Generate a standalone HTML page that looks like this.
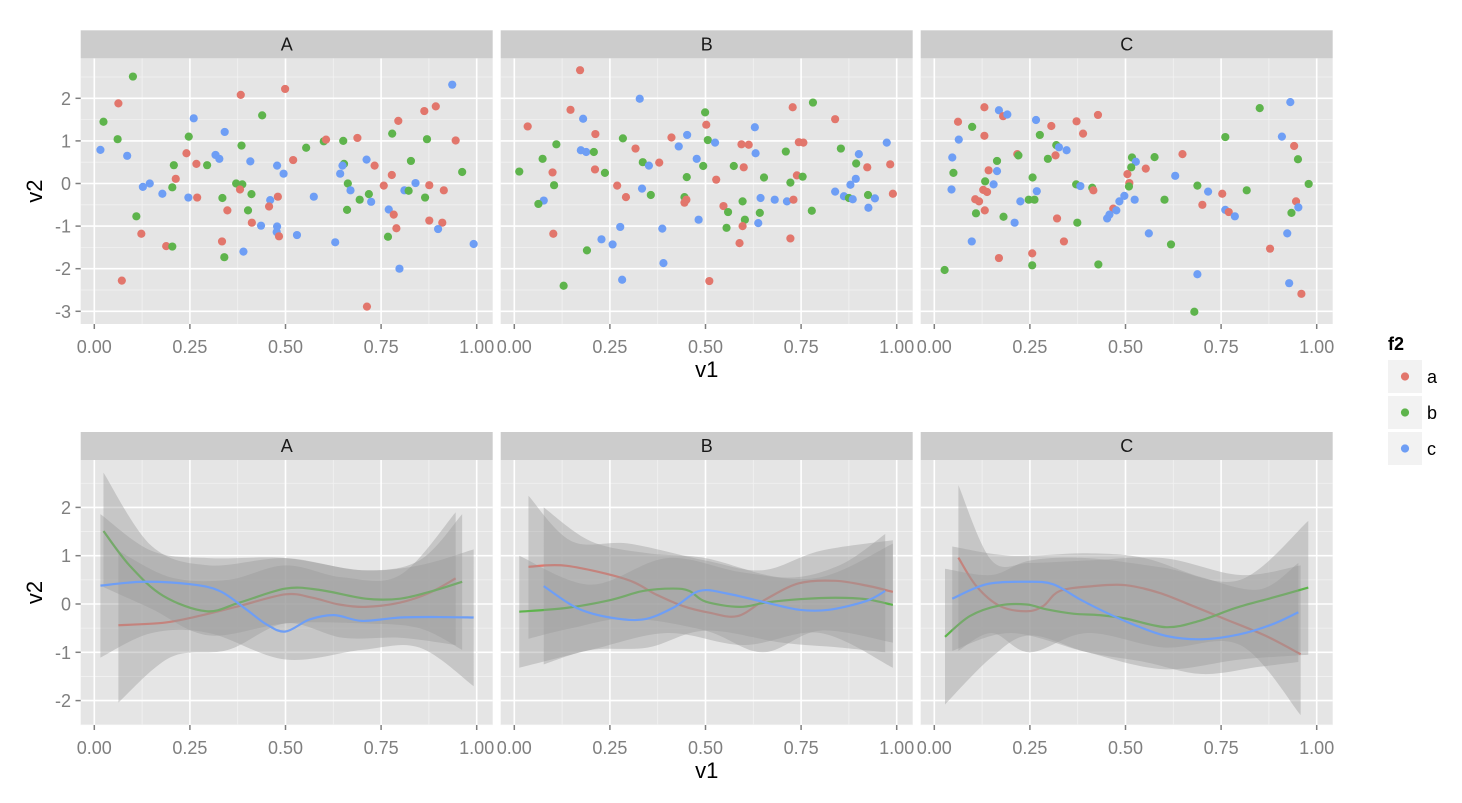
<!DOCTYPE html>
<html><head><meta charset="utf-8"><style>
html,body{margin:0;padding:0;background:#fff;}
svg{display:block;font-family:"Liberation Sans",Arial,sans-serif;}
</style></head><body>
<svg id="chart" width="1462" height="803" viewBox="0 0 1462 803" xmlns="http://www.w3.org/2000/svg"></svg>
<script>
// ---------- Top row: scatter points (x, y, group) ----------
const ptsAx=[.101,.063,.024,.061,.016,.086,.26,.247,.241,.267,.208,.295,.213,.204,.127,.145,.178,.246,.269,.110,.123,.188,.204,.072,.341,.317,.327,.385,.383,.439,.408,.371,.387,.381,.411,.335,.348,.402,.412,.436,.334,.340,.39,.499,.478,.495,.52,.48,.46,.457,.478,.477,.483,.53,.554,.60,.606,.574,.651,.688,.653,.649,.643,.663,.67,.694,.661,.63,.712,.733,.718,.724,.713,.795,.779,.778,.757,.77,.783,.79,.768,.798,.828,.811,.822,.84,.863,.893,.87,.876,.865,.876,.91,.914,.899,.945,.936,.962,.992];
const ptsAy=[2.51,1.88,1.45,1.04,.79,.65,1.53,1.10,.71,.46,.43,.43,.11,-.09,-.08,0,-.24,-.33,-.33,-.77,-1.18,-1.47,-1.48,-2.28,1.21,.67,.58,.89,2.08,1.60,.52,0,-.02,-.14,-.25,-.34,-.63,-.63,-.92,-.99,-1.36,-1.73,-1.60,2.22,.42,.23,.55,-.31,-.39,-.54,-1.01,-1.14,-1.24,-1.21,.84,.99,1.03,-.31,1.0,1.07,.46,.42,.23,0,-.16,-.38,-.62,-1.38,.56,.42,-.25,-.43,-2.89,1.47,1.17,.20,-.05,-.61,-.73,-1.05,-1.25,-2.0,.53,-.16,-.17,.01,1.70,1.81,1.04,-.04,-.33,-.87,-.92,-.16,-1.07,1.01,2.32,.27,-1.42];
const ptsAg=("babbcccbaa"+"bbabccccab"+"aabacccbab"+"cbbabbabac"+"abcaccaaca"+"ccacbbacba"+"bccbcbbcca"+"bcaabaacaa"+"bcbcbcaaba"+"baaacacbc").split("");
const ptsBx=[.172,.147,.18,.035,.212,.11,.174,.188,.208,.074,.10,.013,.104,.077,.063,.211,.237,.269,.292,.102,.277,.228,.257,.19,.129,.282,.328,.284,.317,.336,.352,.379,.334,.357,.387,.39,.411,.452,.43,.477,.494,.451,.445,.45,.445,.482,.499,.502,.506,.525,.528,.547,.559,.555,.51,.629,.594,.613,.631,.574,.6,.653,.597,.603,.597,.589,.644,.642,.638,.681,.713,.73,.722,.71,.728,.744,.756,.739,.754,.722,.778,.781,.839,.854,.901,.894,.923,.893,.879,.839,.862,.875,.885,.925,.943,.926,.974,.983,.99];
const ptsBy=[2.66,1.73,1.52,1.34,1.16,.92,.78,.74,.74,.58,.26,.28,-.04,-.40,-.48,.33,.25,-.05,-.32,-1.18,-1.02,-1.31,-1.43,-1.57,-2.40,-2.26,1.99,1.06,.82,.50,.42,.49,-.12,-.27,-1.06,-1.87,1.08,1.14,.87,.58,.41,.15,-.32,-.38,-.45,-.85,1.67,1.38,1.02,.96,.09,-.53,-.67,-1.04,-2.29,1.32,.92,.91,.71,.41,.38,.14,-.42,-.85,-1.0,-1.40,-.34,-.69,-.93,-.38,-.42,-.38,-1.29,.75,1.79,.97,.96,.19,.16,.02,-.64,1.90,1.51,.82,.69,.47,.38,.11,-.03,-.19,-.30,-.34,-.37,-.27,-.35,-.57,.96,.45,-.24];
const ptsBg=("aacaabccbb"+"abbcbabaaa"+"cccbbccbab"+"cacbccaccc"+"bbbaacbabc"+"aabbacaacb"+"abbbaacbcc"+"caabaaaabb"+"bbabcbaccc"+"cbcbcccaa").split("");
const ptsCx=[.131,.169,.18,.191,.062,.099,.131,.064,.047,.050,.045,.142,.164,.164,.133,.155,.128,.138,.107,.117,.132,.109,.181,.098,.169,.027,.217,.22,.266,.276,.306,.257,.268,.247,.262,.225,.21,.256,.256,.319,.326,.346,.317,.297,.372,.389,.428,.371,.382,.413,.416,.321,.374,.339,.429,.517,.527,.515,.505,.51,.509,.553,.576,.649,.63,.524,.497,.484,.468,.476,.458,.452,.561,.619,.602,.688,.701,.688,.68,.716,.753,.761,.77,.786,.761,.817,.851,.878,.909,.931,.941,.951,.979,.946,.952,.934,.923,.928,.96];
const ptsCy=[1.79,1.72,1.58,1.62,1.45,1.33,1.12,1.03,.61,.25,-.14,.31,.29,.53,.05,-.02,-.15,-.20,-.37,-.42,-.63,-.70,-.78,-1.36,-1.75,-2.03,.69,.66,1.49,1.14,1.35,.14,-.18,-.38,-.38,-.42,-.92,-1.64,-1.92,.90,.85,.78,.66,.58,1.46,1.17,1.61,-.02,-.06,-.10,-.16,-.82,-.92,-1.36,-1.90,.61,.51,.38,.22,.01,-.07,.35,.62,.69,.18,-.38,-.29,-.42,-.59,-.63,-.73,-.82,-1.17,-1.43,-.38,-.05,-.50,-2.13,-3.01,-.19,-.24,-.62,-.67,-.77,1.09,-.16,1.77,-1.53,1.10,1.91,.88,.57,-.01,-.42,-.56,-.69,-1.17,-2.34,-2.59];
const ptsCg=("acacabaccb"+"cacbbcaaaa"+"abbcababcb"+"abcbbccabb"+"ccabaaabcb"+"aababbcbaa"+"babaccccac"+"cccbbbacbc"+"acacbbbacc"+"abbacbcca").split("");

// ---------- Bottom row: smooth fits (fit x/y, ribbon x/upper/lower) ----------
const A_a_fx=[.063,.18,.267,.38,.50,.57,.64,.71,.80,.876,.945], A_a_fy=[-.44,-.39,-.26,-.04,.20,.13,-.01,-.06,.03,.23,.53];
const A_a_rx=[.063,.2,.35,.5,.65,.8,.945], A_a_up=[1.1,.55,.5,.8,.55,.6,1.9], A_a_lo=[-2.04,-1.1,-.95,-.4,-.7,-.7,-.85];
const A_b_fx=[.024,.093,.18,.293,.38,.50,.59,.71,.80,.885,.962], A_b_fy=[1.51,.79,.17,-.15,.03,.32,.29,.11,.11,.27,.46];
const A_b_rx=[.024,.15,.3,.5,.7,.85,.962], A_b_up=[2.72,1.2,.8,.95,.7,.9,1.86], A_b_lo=[.35,-.1,-.65,-.4,-.4,-.5,-.95];
const A_c_fx=[.016,.128,.25,.328,.397,.45,.50,.563,.628,.70,.80,.90,.992], A_c_fy=[.38,.46,.41,.27,-.11,-.42,-.57,-.32,-.23,-.35,-.28,-.27,-.28];
const A_c_rx=[.016,.15,.3,.5,.7,.85,.992], A_c_up=[1.86,1.1,.95,.95,.7,.8,1.13], A_c_lo=[-1.11,-.6,-.6,-1.15,-.95,-.9,-1.7];
const B_a_fx=[.037,.137,.293,.37,.44,.51,.584,.658,.745,.84,.928,.99], B_a_fy=[.77,.79,.51,.2,-.04,-.18,-.25,.1,.43,.48,.37,.25];
const B_a_rx=[.037,.15,.3,.5,.65,.8,.99], B_a_up=[2.24,1.3,1.25,.9,.7,1.1,1.32], B_a_lo=[-.72,-.5,-.3,-.55,-1.0,-.55,-.8];
const B_b_fx=[.013,.137,.25,.337,.415,.458,.50,.589,.658,.745,.84,.92,.99], B_b_fy=[-.16,-.08,.08,.27,.32,.27,.05,-.06,.03,.1,.13,.1,-.02];
const B_b_rx=[.013,.2,.4,.6,.8,.99], B_b_up=[1.0,.4,.95,.65,.55,1.25], B_b_lo=[-1.32,-.95,-.6,-.85,-.6,-1.32];
const B_c_fx=[.077,.163,.25,.337,.415,.484,.554,.658,.745,.823,.92,.97], B_c_fy=[.37,-.08,-.28,-.32,-.08,.27,.22,.03,-.12,-.12,.06,.27];
const B_c_rx=[.077,.2,.35,.5,.7,.85,.97], B_c_up=[2.0,1.3,1.05,.95,.55,.8,1.45], B_c_lo=[-1.25,-.95,-.9,-.55,-.8,-.9,-1.0];
const C_a_fx=[.063,.11,.171,.241,.285,.328,.415,.50,.589,.676,.763,.867,.958], C_a_fy=[.96,.37,-.04,-.15,-.04,.27,.37,.39,.23,-.04,-.32,-.66,-1.04];
const C_a_rx=[.063,.15,.25,.4,.6,.8,.958], C_a_up=[2.46,.9,.85,.9,.95,.6,.8], C_a_lo=[-.97,-.6,-1.0,-.6,-.9,-.85,-2.3];
const C_b_fx=[.028,.093,.171,.241,.293,.363,.432,.50,.606,.693,.789,.884,.978], C_b_fy=[-.68,-.25,-.03,-.01,-.11,-.2,-.23,-.3,-.48,-.35,-.08,.13,.34];
const C_b_rx=[.028,.15,.25,.4,.6,.8,.978], C_b_up=[.73,.6,.9,.95,.75,.5,1.72], C_b_lo=[-2.08,-1.1,-.65,-1.0,-1.35,-1.15,-1.05];
const C_c_fx=[.047,.137,.241,.31,.38,.45,.519,.606,.70,.797,.884,.952], C_c_fy=[.11,.41,.46,.41,.1,-.18,-.42,-.66,-.73,-.63,-.42,-.17];
const C_c_rx=[.047,.2,.4,.55,.7,.85,.952], C_c_up=[1.19,1.0,1.05,.95,.55,.3,.85], C_c_lo=[-.97,-.6,-1.0,-1.2,-1.45,-1.3,-1.2];

const panelNames=["A","B","C"];
const groupNames=["a","b","c"];
const xTicks=[0,0.25,0.5,0.75,1];
const xTickLabels=["0.00","0.25","0.50","0.75","1.00"];
const topYTicks=[-3,-2,-1,0,1,2];
const botYTicks=[-2,-1,0,1,2];

const COLORS={a:"#E2766C",b:"#5EB44C",c:"#6E9EF5"};
const NS="http://www.w3.org/2000/svg";
const svg=document.getElementById("chart");
const panelLeft=[80.7,500.7,920.7], panelW=412;
const TOP={y0:58.3,y1:324,zero:183.5,unit:42.6};
const BOT={y0:460,y1:725,zero:604,unit:48.3};
function sx(p,v){return panelLeft[p]+13.6+v*382.4;}
function sy(r,v){return r.zero-v*r.unit;}
function mk(tag,attrs,parent){const e=document.createElementNS(NS,tag);for(const k in attrs)e.setAttribute(k,attrs[k]);(parent||svg).appendChild(e);return e;}
function smooth(pts){
  let d="M"+pts[0][0].toFixed(2)+","+pts[0][1].toFixed(2);
  for(let i=0;i<pts.length-1;i++){
    const p0=pts[Math.max(0,i-1)],p1=pts[i],p2=pts[i+1],p3=pts[Math.min(pts.length-1,i+2)];
    const c1=[p1[0]+(p2[0]-p0[0])/6,p1[1]+(p2[1]-p0[1])/6];
    const c2=[p2[0]-(p3[0]-p1[0])/6,p2[1]-(p3[1]-p1[1])/6];
    d+="C"+c1[0].toFixed(2)+","+c1[1].toFixed(2)+" "+c2[0].toFixed(2)+","+c2[1].toFixed(2)+" "+p2[0].toFixed(2)+","+p2[1].toFixed(2);
  }
  return d;
}
function smoothCont(pts){return smooth(pts).replace(/^M[^C]*/,"");}

function drawPanel(p,r,yTicks,row){
  const g=mk("g",{});
  
  
  const bg=mk("rect",{x:panelLeft[p],y:r.y0,width:panelW,height:r.y1-r.y0,fill:"#e5e5e5"},g);
  
  
  for(const v of [0.125,0.375,0.625,0.875]){const x=sx(p,v);mk("line",{x1:x,x2:x,y1:r.y0,y2:r.y1,stroke:"#f2f2f2","stroke-width":0.8},g);}
  const minors=yTicks.map(v=>v+0.5).concat([yTicks[0]-0.5]);
  for(const v of minors){const y=sy(r,v);if(y>r.y0&&y<r.y1)mk("line",{x1:panelLeft[p],x2:panelLeft[p]+panelW,y1:y,y2:y,stroke:"#f2f2f2","stroke-width":0.8},g);}
  for(const v of xTicks){const x=sx(p,v);mk("line",{x1:x,x2:x,y1:r.y0,y2:r.y1,stroke:"#ffffff","stroke-width":1.6},g);}
  for(const v of yTicks){const y=sy(r,v);mk("line",{x1:panelLeft[p],x2:panelLeft[p]+panelW,y1:y,y2:y,stroke:"#ffffff","stroke-width":1.6},g);}
  const st=mk("rect",{x:panelLeft[p],y:r.y0-28,width:panelW,height:28,fill:"#cccccc"});
  
  
  const stt=mk("text",{x:panelLeft[p]+panelW/2,y:r.y0-8,"text-anchor":"middle","font-size":18,fill:"#1a1a1a"});
  stt.textContent=panelNames[p];
  
  
  for(let i=0;i<xTicks.length;i++){
    const x=sx(p,xTicks[i]);
    mk("line",{x1:x,x2:x,y1:r.y1,y2:r.y1+5,stroke:"#7f7f7f","stroke-width":1.5});
    const t=mk("text",{x:x,y:r.y1+29,"text-anchor":"middle","font-size":18,fill:"#7f7f7f"});
    t.textContent=xTickLabels[i];
    
    
  }
  return g;
}

function drawYAxis(r,yTicks,row){
  for(const v of yTicks){
    const y=sy(r,v);
    mk("line",{x1:75.5,x2:80.7,y1:y,y2:y,stroke:"#7f7f7f","stroke-width":1.5});
    const t=mk("text",{x:71,y:y+6.5,"text-anchor":"end","font-size":18,fill:"#7f7f7f"});
    t.textContent=String(v);
    
    
  }
  const ym=(r.y0+r.y1)/2;
  const yt=mk("text",{x:0,y:0,"text-anchor":"middle","font-size":22,fill:"#000",transform:"translate(42,"+ym+") rotate(-90)"});
  yt.textContent="v2";
  
  
  const xt=mk("text",{x:(panelLeft[0]+panelLeft[2]+panelW)/2,y:r.y1+53,"text-anchor":"middle","font-size":22,fill:"#000"});
  xt.textContent="v1";
  
  
}

const topX=[ptsAx,ptsBx,ptsCx], topY=[ptsAy,ptsBy,ptsCy], topG=[ptsAg,ptsBg,ptsCg];
for(let p=0;p<3;p++){
  const g=drawPanel(p,TOP,topYTicks,"top");
  for(let i=0;i<topX[p].length;i++){
    const c=mk("circle",{cx:sx(p,topX[p][i]),cy:sy(TOP,topY[p][i]),r:4.1,fill:COLORS[topG[p][i]]||"#6E9EF5"},g);
    
    
  }
}
drawYAxis(TOP,topYTicks,"top");

const fits={
  A:[[A_a_fx,A_a_fy,A_a_rx,A_a_up,A_a_lo],[A_b_fx,A_b_fy,A_b_rx,A_b_up,A_b_lo],[A_c_fx,A_c_fy,A_c_rx,A_c_up,A_c_lo]],
  B:[[B_a_fx,B_a_fy,B_a_rx,B_a_up,B_a_lo],[B_b_fx,B_b_fy,B_b_rx,B_b_up,B_b_lo],[B_c_fx,B_c_fy,B_c_rx,B_c_up,B_c_lo]],
  C:[[C_a_fx,C_a_fy,C_a_rx,C_a_up,C_a_lo],[C_b_fx,C_b_fy,C_b_rx,C_b_up,C_b_lo],[C_c_fx,C_c_fy,C_c_rx,C_c_up,C_c_lo]]
};
for(let p=0;p<3;p++){
  const g=drawPanel(p,BOT,botYTicks,"bottom");
  const clip=mk("clipPath",{id:"clip"+p},g);
  mk("rect",{x:panelLeft[p],y:BOT.y0,width:panelW,height:BOT.y1-BOT.y0},clip);
  const series=fits[panelNames[p]];
  for(let s=0;s<3;s++){
    const [fx,fy,rx,up,lo]=series[s];
    const upPts=rx.map((v,i)=>[sx(p,v),sy(BOT,up[i])]);
    const loPts=rx.map((v,i)=>[sx(p,v),sy(BOT,lo[i])]).reverse();
    const d=smooth(upPts)+"L"+loPts[0][0].toFixed(2)+","+loPts[0][1].toFixed(2)+smoothCont(loPts)+"Z";
    const rb=mk("path",{d:d,fill:"#999999","fill-opacity":0.4,"clip-path":"url(#clip"+p+")"},g);
    
    
    const ln=mk("path",{d:smooth(fx.map((v,i)=>[sx(p,v),sy(BOT,fy[i])])),fill:"none",stroke:COLORS[groupNames[s]],"stroke-width":2.2,"clip-path":"url(#clip"+p+")"},g);
    
    
  }
}
drawYAxis(BOT,botYTicks,"bottom");

const lg=mk("g",{});


const lt=mk("text",{x:1388,y:350,"font-size":18,"font-weight":"bold",fill:"#000"},lg);
lt.textContent="f2";


for(let i=0;i<3;i++){
  const y0=360+i*36;
  const e=mk("g",{},lg);
  
  
  mk("rect",{x:1388,y:y0,width:34,height:33,fill:"#f2f2f2"},e);
  mk("circle",{cx:1405,cy:y0+16.5,r:4.1,fill:COLORS[groupNames[i]]},e);
  const t=mk("text",{x:1427,y:y0+23,"font-size":18,fill:"#000"},e);
  t.textContent=groupNames[i];
}
</script>
</body></html>
